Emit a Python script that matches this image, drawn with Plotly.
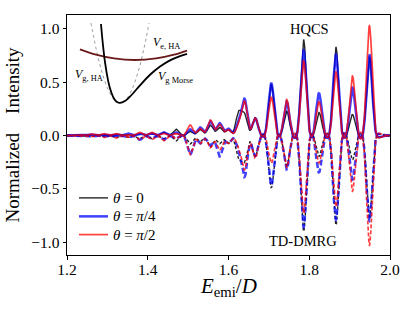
import numpy as np
import plotly.graph_objects as go

# ---------------- data ----------------
x_ticks = [1.2, 1.4, 1.6, 1.8, 2.0]
y_ticks = [-1.0, -0.5, 0.0, 0.5, 1.0]
theta_labels = ["<i>θ</i> = 0", "<i>θ</i> = <i>π</i>/4", "<i>θ</i> = <i>π</i>/2"]

# emission peak positions (E_emi / D)
peak_pos = [1.26, 1.29, 1.32, 1.35, 1.38, 1.41, 1.44, 1.47,
            1.505, 1.53, 1.555, 1.578, 1.600, 1.625, 1.640, 1.666,
            1.706, 1.744, 1.786, 1.824, 1.866, 1.907, 1.949]

# HQCS peak heights (plotted upward)
hqcs_theta0 = [0.01, 0.01, 0.015, 0.01, 0.02, 0.02, 0.03, 0.06,
               0.04, 0.06, 0.10, 0.08, 0.06, 0.22, 0.20, 0.17,
               0.48, 0.23, 0.90, 0.22, 0.83, 0.20, 0.74]
hqcs_theta_pi4 = [0.01, 0.01, 0.01, 0.02, 0.02, 0.02, 0.03, 0.03,
                  0.06, 0.08, 0.14, 0.12, 0.07, 0.12, 0.34, 0.17,
                  0.49, 0.32, 0.80, 0.40, 0.76, 0.45, 0.76]
hqcs_theta_pi2 = [0.015, 0.02, 0.02, 0.01, 0.03, 0.03, 0.02, 0.02,
                  0.10, 0.07, 0.15, 0.11, 0.06, 0.10, 0.32, 0.17,
                  0.36, 0.34, 0.70, 0.32, 0.60, 0.56, 1.03]

# TD-DMRG peak heights (plotted downward)
dmrg_theta0 = [0.01, 0.01, 0.02, 0.02, 0.03, 0.03, 0.03, 0.05,
               0.08, 0.06, 0.11, 0.08, 0.08, 0.21, 0.24, 0.20,
               0.49, 0.30, 0.90, 0.20, 0.84, 0.23, 0.78]
dmrg_theta_pi4 = [0.01, 0.01, 0.01, 0.02, 0.04, 0.03, 0.04, 0.03,
                  0.18, 0.08, 0.10, 0.20, 0.08, 0.12, 0.385, 0.20,
                  0.47, 0.32, 0.86, 0.35, 0.79, 0.415, 0.80]
dmrg_theta_pi2 = [0.01, 0.02, 0.025, 0.02, 0.04, 0.04, 0.05, 0.03,
                  0.18, 0.08, 0.12, 0.14, 0.08, 0.10, 0.32, 0.22,
                  0.26, 0.30, 0.73, 0.26, 0.67, 0.525, 1.03]

# inset: potential energy curves (schematic)
inset_morse_r = [0.683, 0.717, 0.75, 0.8, 0.833, 0.883, 0.917, 0.958, 1.0, 1.083,
                 1.167, 1.333, 1.5, 1.667, 1.833, 2.0, 2.117]
inset_morse_v = [0.988, 0.72, 0.511, 0.286, 0.183, 0.078, 0.036, 0.008, 0.0, 0.024,
                 0.080, 0.22, 0.353, 0.456, 0.533, 0.586, 0.614]
inset_gha_r = [0.516, 0.6, 0.7, 0.8, 0.9, 1.0, 1.1, 1.2, 1.3, 1.4, 1.484]
inset_gha_v = [1.0, 0.684, 0.385, 0.171, 0.043, 0.0, 0.043, 0.171, 0.385, 0.684, 1.0]
inset_eha_r = [0.333, 0.6, 0.9, 1.25, 1.6, 1.9, 2.117]
inset_eha_v = [0.670, 0.604, 0.557, 0.5375, 0.557, 0.604, 0.656]

# ---------------- spectra construction ----------------
sigma = 0.0071     # line broadening
sidelobe = 0.10
E = np.linspace(1.2, 2.0, 1601)


def spectrum(heights):
    s = np.zeros_like(E)
    for p, h in zip(peak_pos, heights):
        d = E - p
        s += h * ((1 + sidelobe) * np.exp(-d ** 2 / (2 * sigma ** 2))
                  - sidelobe * np.exp(-d ** 2 / (8 * sigma ** 2)))
    return s


colors = ["rgba(0,0,0,0.85)", "rgba(0,0,255,0.75)", "rgba(255,0,0,0.75)"]
widths = [1.4, 2.5, 1.7]
dashes = ["3px,2px", "6px,3px", "4px,2px"]
hqcs = [hqcs_theta0, hqcs_theta_pi4, hqcs_theta_pi2]
dmrg = [dmrg_theta0, dmrg_theta_pi4, dmrg_theta_pi2]

SERIF = "Liberation Serif"
fig = go.Figure()

for i in range(3):
    fig.add_trace(go.Scatter(x=E, y=-spectrum(dmrg[i]), mode="lines",
                             line=dict(color=colors[i], width=widths[i], dash=dashes[i]),
                             showlegend=False, hoverinfo="skip"))
for i in range(3):
    fig.add_trace(go.Scatter(x=E, y=spectrum(hqcs[i]), mode="lines", name=theta_labels[i],
                             line=dict(color=colors[i], width=widths[i]),
                             showlegend=False, hoverinfo="skip"))

# inset
fig.add_trace(go.Scatter(x=inset_gha_r, y=inset_gha_v, mode="lines", xaxis="x2", yaxis="y2",
                         line=dict(color="gray", width=0.8, dash="dot", shape="spline"),
                         showlegend=False, hoverinfo="skip"))
fig.add_trace(go.Scatter(x=inset_eha_r, y=inset_eha_v, mode="lines", xaxis="x2", yaxis="y2",
                         line=dict(color="#6b1a1a", width=1.8, shape="spline"),
                         showlegend=False, hoverinfo="skip"))
fig.add_trace(go.Scatter(x=inset_morse_r, y=inset_morse_v, mode="lines", xaxis="x2", yaxis="y2",
                         line=dict(color="black", width=1.8, shape="spline"),
                         showlegend=False, hoverinfo="skip"))

annots = [
    dict(x=1.8, y=1.0, xref="x", yref="y", text="HQCS", showarrow=False,
         font=dict(family=SERIF, size=14.5, color="black"), xanchor="center", yanchor="middle"),
    dict(x=1.784, y=-0.99, xref="x", yref="y", text="TD-DMRG", showarrow=False,
         font=dict(family=SERIF, size=14.5, color="black"), xanchor="center", yanchor="middle"),
    dict(x=1.78, y=0.75, xref="x2", yref="y2", text="<i>V</i><sub>e, HA</sub>", showarrow=False,
         font=dict(family=SERIF, size=12, color="black")),
    dict(x=0.48, y=0.35, xref="x2", yref="y2", text="<i>V</i><sub>g, HA</sub>", showarrow=False,
         font=dict(family=SERIF, size=12, color="black")),
    dict(x=1.92, y=0.32, xref="x2", yref="y2", text="<i>V</i><sub>g Morse</sub>", showarrow=False,
         font=dict(family=SERIF, size=12, color="black")),
    # x-axis title
    dict(x=0.5, y=-0.135, xref="paper", yref="paper", text="<i>E</i><sub>emi</sub>/<i>D</i>",
         showarrow=False, xanchor="center", yanchor="middle",
         font=dict(family=SERIF, size=21, color="black")),
]

# legend (line samples + labels, placed like the reference)
legend_y = [0.238, 0.161, 0.085]   # paper coords of the three rows
shapes = []
for i in range(3):
    shapes.append(dict(type="line", xref="paper", yref="paper",
                       x0=0.037, x1=0.127, y0=legend_y[i], y1=legend_y[i],
                       line=dict(color=colors[i], width=widths[i])))
    annots.append(dict(x=0.137, y=legend_y[i], xref="paper", yref="paper",
                       text=theta_labels[i], showarrow=False, xanchor="left", yanchor="middle",
                       font=dict(family=SERIF, size=15, color="black")))

axis_common = dict(showline=True, linecolor="black", linewidth=1, mirror=True,
                   ticks="outside", ticklen=3.5, tickwidth=1, tickcolor="black",
                   showgrid=False, zeroline=False,
                   tickfont=dict(family=SERIF, size=15.5, color="black"))

fig.update_layout(
    width=415, height=312,
    margin=dict(l=67, r=25, t=15, b=57),
    paper_bgcolor="white", plot_bgcolor="white",
    xaxis=dict(range=[1.2, 2.0], tickvals=x_ticks, tickformat=".1f",
               ticklabelstandoff=-3, **axis_common),
    yaxis=dict(range=[-1.12, 1.13], tickvals=y_ticks, tickformat=".1f",
               title=dict(text="Normalized    Intensity",
                          font=dict(family=SERIF, size=19, color="black"), standoff=6),
               **axis_common),
    xaxis2=dict(domain=[0.034, 0.381], range=[0.3, 2.167], visible=False, anchor="y2"),
    yaxis2=dict(domain=[0.621, 0.979], range=[-0.0375, 1.0375], visible=False, anchor="x2"),
    showlegend=False,
    hovermode=False,
    annotations=annots,
    shapes=shapes,
)

fig.write_html("out.html", config={"displayModeBar": False},
               post_script="document.body.style.margin='0';")
